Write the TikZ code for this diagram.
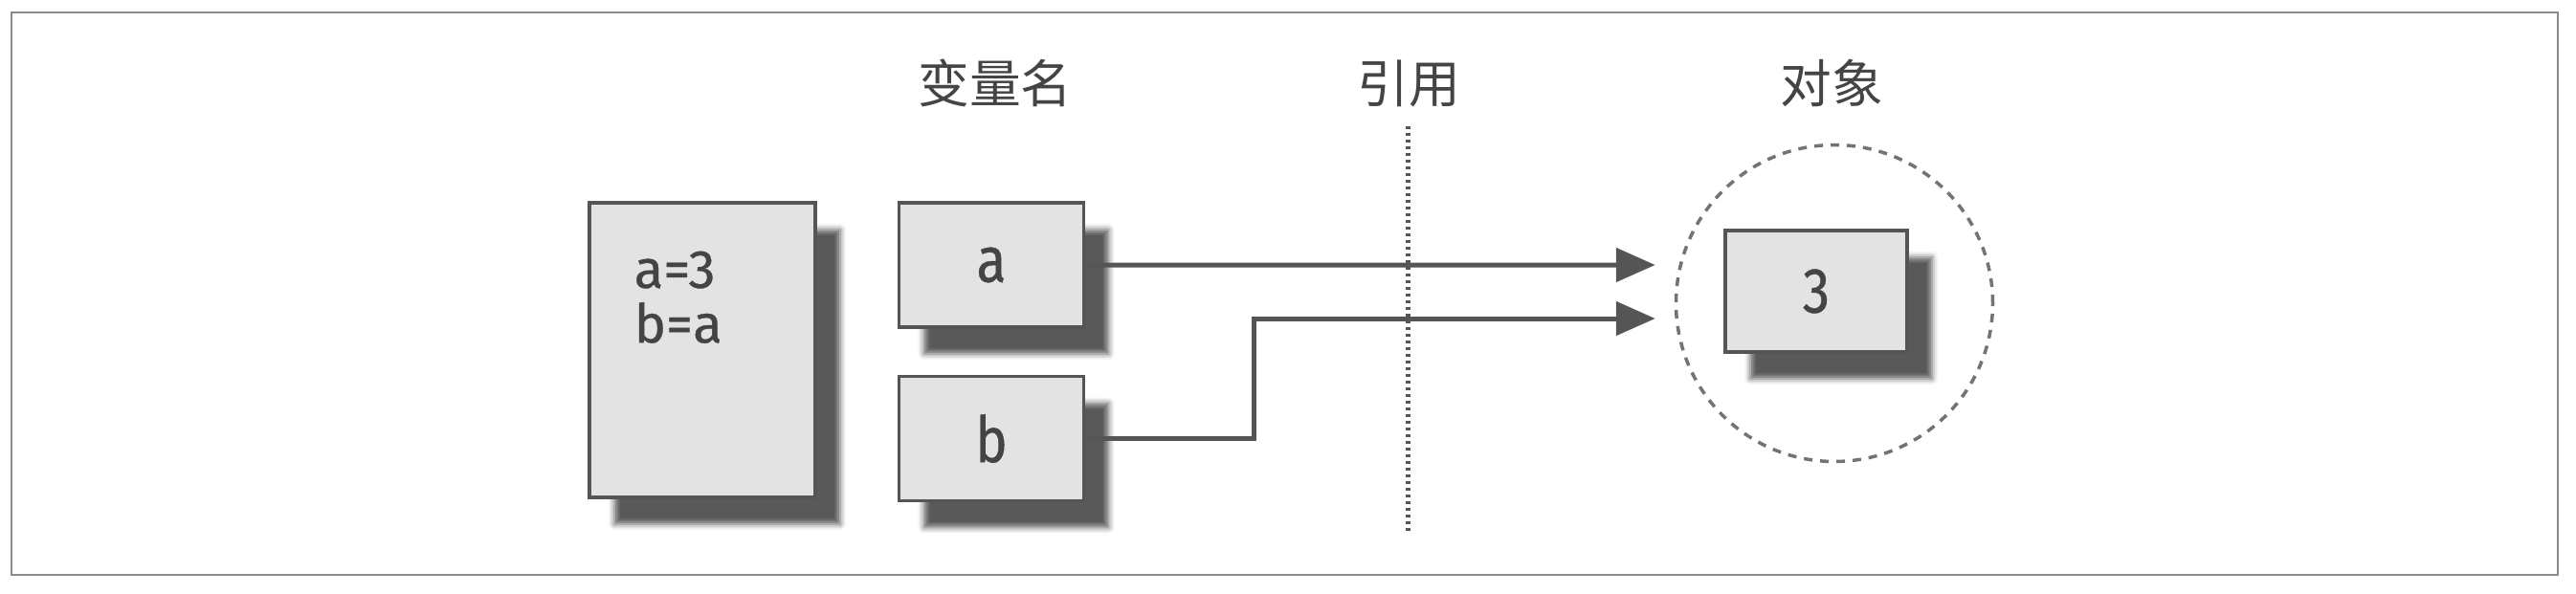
\documentclass[tikz,border=0pt]{standalone}
\usepackage{fontspec}
\setsansfont{Fira Sans}
\newfontfamily\boxfont{Fira Sans}[FakeBold=0.6, FakeStretch=0.85]
\newfontfamily\codefont{Fira Sans}[FakeBold=0.6]
\newfontfamily\cjk{Noto Sans CJK SC}
\usetikzlibrary{positioning,arrows.meta,shadows.blur}
\definecolor{ink}{HTML}{444444}
\definecolor{boxfill}{HTML}{E3E3E3}
\definecolor{boxline}{HTML}{555555}
\tikzset{
  membox/.style={draw=boxline, line width=0.035cm, fill=boxfill, inner sep=0pt, text=ink,
    font=\boxfont\fontsize{19}{20}\selectfont,
    blur shadow={shadow xshift=0.26cm, shadow yshift=-0.28cm, shadow blur radius=0.06cm, shadow opacity=65}},
  ref/.style={draw=boxline, line width=0.05cm, shorten >=0.2cm, -{Triangle[length=0.41cm,width=0.35cm]}},
  head/.style={text=ink, font=\cjk\fontsize{15.3}{17}\selectfont}
}
\begin{document}
\begin{tikzpicture}
\useasboundingbox (0,0) rectangle (26.92,6.20);
\draw[color=gray!90, line width=0.025cm] (0.12,0.19) rectangle (26.73,6.07);
\node[membox, minimum width=2.36cm, minimum height=3.08cm] (code) at (7.34,2.54) {};
\node[anchor=north west, inner sep=0pt, text=ink, align=left, font=\codefont\fontsize{16}{16.3}\selectfont] (codetext) at (6.62,3.58) {a=3\\b=a};
\node[membox, minimum width=1.93cm, minimum height=1.30cm, right=0.84cm of code.north east, anchor=north west] (va) {a};
\node[membox, minimum width=1.93cm, minimum height=1.30cm, below=0.48cm of va] (vb) {b};
\node[draw=gray!110, circle, line width=0.035cm, dash pattern=on 0.09cm off 0.08cm, minimum size=3.31cm] (objring) at (19.17,3.03) {};
\node[membox, minimum width=1.90cm, minimum height=1.27cm] (obj) at (18.98,3.155) {3};
\coordinate (reftop) at (14.71,4.88);
\coordinate (refbot) at (14.71,0.62);
\draw[boxline, line width=0.05cm, dash pattern=on 0.03cm off 0.04cm] (reftop) -- (refbot);
\node[head] (varlabel) at (10.40,5.33) {变量名};
\node[head] (reflabel) at (14.72,5.33) {引用};
\node[head] (objlabel) at (19.14,5.33) {对象};
\draw[ref] (va.east) -- ([yshift=0.40cm]objring.west);
\draw[ref] (vb.east) -- ++(1.76,0) |- ([yshift=-0.16cm]objring.west);
\end{tikzpicture}
\end{document}
